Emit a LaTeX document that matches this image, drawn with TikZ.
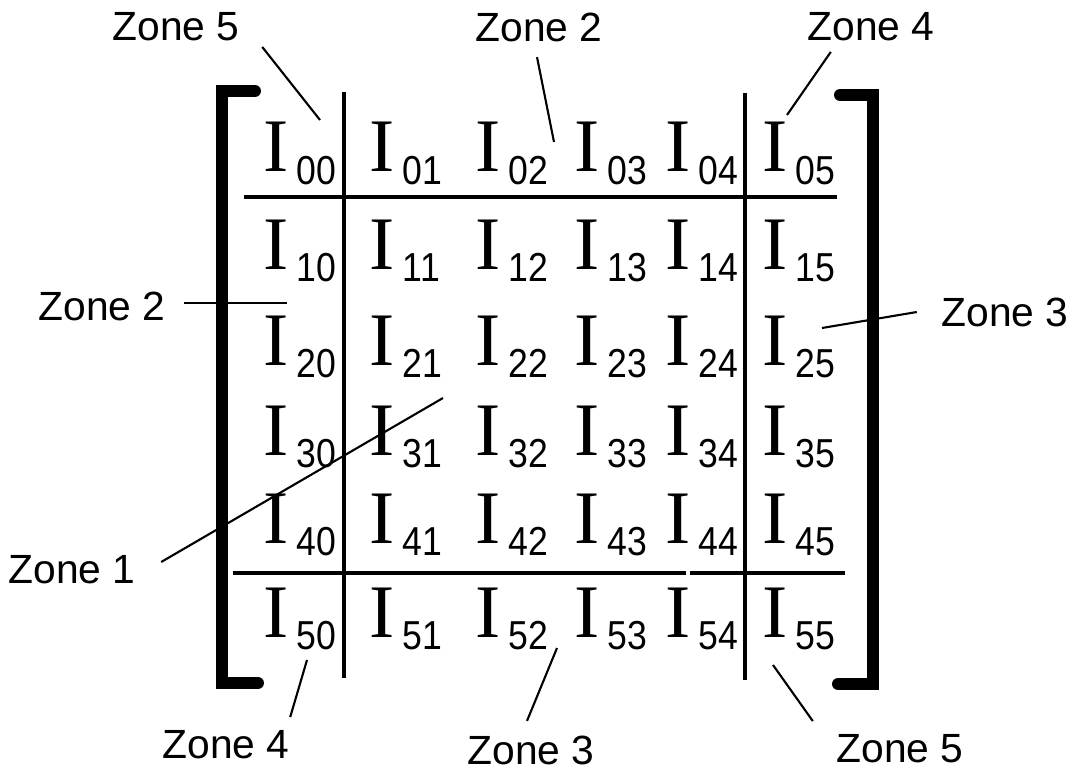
\documentclass[tikz,border=0pt]{standalone}
\usepackage{fontspec}
\setmainfont{Liberation Sans}
\newfontfamily\entryfont{Liberation Serif}
\newfontfamily\subfont{Liberation Sans}
\usetikzlibrary{calc}

\begin{document}
\begin{tikzpicture}[
		x=0.01cm, y=-0.01cm,
		zone/.style={
			font=\fontsize{11.6}{14}\selectfont, 
			inner sep=0pt
		},
		entry/.style={
			anchor=base west, 
			inner sep=0pt
		},
		leader/.style={
			draw, 
			line width=0.6pt
		},
		gridline/.style={
			draw, 
			line width=0.9pt
		},
		bracket/.style={
			draw, 
			line width=3.4pt, 
			line cap=round
		}
		]
		\useasboundingbox (0,0) rectangle (1079,770);
		
		% Matrix entries
		\foreach \r/\yb in {0/172,1/269,2/365,3/455,4/543,5/637}
		\foreach \c/\xl in {0/263,1/369,2/475,3/574,4/665,5/762}
		\node (I\r\c) [entry] at (\xl,\yb) {\entryfont\fontsize{21.5}{24}\selectfont I\hspace{0.08cm}\raisebox{-0.12cm}{\scalebox{0.88}[1]{\subfont\fontsize{11.5}{13}\selectfont\r\c}}};
		
		% Brackets
		\draw [bracket] (255,91) -- (222,91) -- (222,683) -- (258,683);
		\draw [bracket] (840,95) -- (873,95) -- (873,684) -- (838,684);
		
		% Zone separators
		\draw [gridline] (344,92) -- (344,678);
		\draw [gridline] (745,93) -- (745,680);
		\draw [gridline] (244,197) -- (837,197);
		\draw [gridline] (233,573) -- (686,573) (690,573) -- (845,573);
		
		% Zone labels
		\node (z5top) [zone] at (176,27) {Zone 5};
		\node (z2top) [zone] at (539,27) {Zone 2};
		\node (z4top) [zone] at (871,27) {Zone 4};
		\node (z2left) [zone] at (102,306) {Zone 2};
		\node (z3right) [zone] at (1005,312) {Zone 3};
		\node (z1left) [zone] at (72,570) {Zone 1};
		\node (z4bot) [zone] at (226,745) {Zone 4};
		\node (z3bot) [zone] at (531,750) {Zone 3};
		\node (z5bot) [zone] at (900,749) {Zone 5};
		
		% Leader ends
		\coordinate (t5top) at (320,120);
		\coordinate (t2top) at (554,142);
		\coordinate (t4top) at (787,115);
		\coordinate (t2left) at (287,303);
		\coordinate (t3right) at (822,328);
		\coordinate (t1left) at (443,398);
		\coordinate (t4bot) at (307,660);
		\coordinate (t3bot) at (557,648);
		\coordinate (t5bot) at (773,665);
		
		% Leaders
		\draw [leader] ($(z5top.south east)+(22,5)$) -- (t5top);
		\draw [leader] ($(z2top.south)+(-2,15)$) -- (t2top);
		\draw [leader] ($(z4top.south west)+(24,10)$) -- (t4top);
		\draw [leader] ($(z2left.east)+(18,-3)$) -- (t2left);
		\draw [leader] ($(z3right.west)+(-24,0)$) -- (t3right);
		\draw [leader] ($(z1left.east)+(25,-8)$) -- (t1left);
		\draw [leader] ($(z4bot.north east)+(0,-13)$) -- (t4bot);
		\draw [leader] ($(z3bot.north)+(-4,-14)$) -- (t3bot);
		\draw [leader] ($(z5bot.north west)+(-23,-13)$) -- (t5bot);
		
	\end{tikzpicture}
\end{document}
